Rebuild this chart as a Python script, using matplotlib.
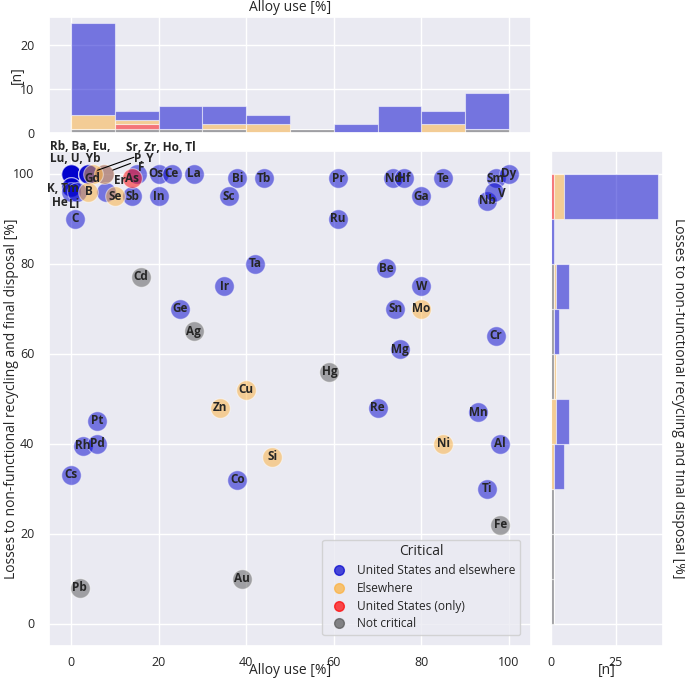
import numpy as np
import matplotlib
matplotlib.use('Agg')
import matplotlib.pyplot as plt
import seaborn as sns
from matplotlib.lines import Line2D

sns.set_theme(style='darkgrid')
plt.rcParams['font.family'] = ['Open Sans', 'DejaVu Sans']

# data
elements = ["Rb", "Ba", "Eu", "Lu", "U", "Yb", "Sr", "Zr", "Ho", "Tl", "P", "Y", "Gd",
            "K", "Tm", "He", "Li", "B", "C", "Er", "Se", "Sb", "As", "F", "Os", "Ce",
            "In", "La", "Bi", "Sc", "Tb", "Pr", "Ru", "Nd", "Hf", "Ga", "Te", "Sm",
            "Dy", "Nb", "V", "Cd", "Ta", "Ir", "Be", "W", "Ge", "Sn", "Mo", "Ag", "Cr",
            "Mg", "Hg", "Cu", "Zn", "Re", "Mn", "Pt", "Rh", "Pd", "Ni", "Al", "Si",
            "Cs", "Co", "Ti", "Fe", "Au", "Pb"]
alloy_use = [0, 0, 0, 0, 0, 0, 4, 4, 4, 4, 7.5, 7.5, 5,
             0, 0, 0, 1.5, 4, 1, 8, 10, 14, 14, 15, 20, 23,
             20, 28, 38, 36, 44, 61, 61, 73.5, 76, 80, 85, 97,
             100, 95, 96.5, 16, 42, 35, 72, 80, 25, 74, 80, 28, 97,
             75, 59, 40, 34, 70, 93, 6, 2.7, 6, 85, 98, 46,
             0, 38, 95, 98, 39, 2]
losses = [100, 100, 100, 100, 100, 100, 100, 100, 100, 100, 100, 100, 100,
          97, 97, 96, 96, 96, 90, 96, 95, 95, 99, 100, 100, 100,
          95, 100, 99, 95, 99, 99, 90, 99, 99, 95, 99, 99,
          100, 94, 96, 77, 80, 75, 79, 75, 70, 70, 70, 65, 64,
          61, 56, 52, 48, 48, 47, 45, 39.5, 40, 40, 40, 37,
          33, 32, 30, 22, 10, 8]
US = 'United States and elsewhere'
EL = 'Elsewhere'
USO = 'United States (only)'
NC = 'Not critical'
critical = [US, US, US, US, US, US, US, US, US, US, EL, US, EL,
            US, US, US, US, EL, US, US, EL, US, USO, US, US, US,
            US, US, US, US, US, US, US, US, US, US, US, US,
            US, US, US, NC, US, US, US, US, US, US, EL, NC, US,
            US, NC, EL, EL, US, US, US, US, US, EL, US, EL,
            US, US, US, NC, NC, NC]

categories = [US, EL, USO, NC]
colors = {US: '#0000cd', EL: '#fcb03a', USO: '#ff0000', NC: '#555555'}

x = np.array(alloy_use, dtype=float)
y = np.array(losses, dtype=float)
cat = np.array(critical)

W, H = 685, 682
def rect(l, t, r, b):
    return [l / W, 1 - b / H, (r - l) / W, (b - t) / H]

fig = plt.figure(figsize=(6.85, 6.82), dpi=100)
ax = fig.add_axes(rect(49, 151, 531, 646))
axt = fig.add_axes(rect(49, 17, 531, 133), sharex=ax)
axr = fig.add_axes(rect(551, 151, 663, 646), sharey=ax)

# scatter
for c in categories:
    m = cat == c
    ax.scatter(x[m], y[m], s=200, color=colors[c], alpha=0.5,
               edgecolor='white', linewidth=0.8, zorder=3)

# labels: points sharing coordinates get one joined label
groups = {}
for n, xi, yi in zip(elements, x, y):
    groups.setdefault((xi, yi), []).append(n)

offsets = {
    "K, Tm": (-8, -1), "He": (-11, -11), "Li": (-3, -13), "Gd": (-1, -5),
    "Er": (14, 11), "F": (5, 6), "V": (8, -2), "Os": (-3, 0),
}
left_labels = {"Rb": (-21, 21), "Sr": (38, 26), "P": (30, 15)}

for (xi, yi), ns in groups.items():
    if len(ns) > 4:
        lab = ",\n".join(", ".join(ns[i:i + 3]) for i in range(0, len(ns), 3))
    else:
        lab = ", ".join(ns)
    if ns[0] in left_labels:
        dx, dy = left_labels[ns[0]]
        arrow = None if ns[0] == "Rb" else dict(arrowstyle='-', color='black', lw=0.8,
                                                 shrinkA=0, shrinkB=7)
        ax.annotate(lab, (xi, yi), xytext=(dx, dy), textcoords='offset pixels',
                    ha='left', va='center', fontsize=8.5, fontweight='bold',
                    linespacing=1.0, arrowprops=arrow, zorder=5)
    else:
        dx, dy = offsets.get(lab, (0, 0))
        ax.annotate(lab, (xi, yi), xytext=(dx, dy), textcoords='offset pixels',
                    ha='center', va='center', fontsize=8.5, fontweight='bold', zorder=5)

ax.set_xlim(-5, 105)
ax.set_ylim(-5, 105)
ax.set_xticks([0, 20, 40, 60, 80, 100])
ax.set_yticks([0, 20, 40, 60, 80, 100])
ax.tick_params(labelsize=9, pad=1)
ax.tick_params(axis='y', pad=4.5)
ax.set_xlabel('Alloy use [%]', fontsize=10, va='center')
ax.xaxis.set_label_coords(0.5, -0.0505)
ax.set_ylabel('Losses to non-functional recycling and final disposal [%]',
              fontsize=10, va='center')
ax.yaxis.set_label_coords(-0.0768, 0.5)

handles = [Line2D([], [], marker='o', linestyle='', markersize=7,
                  color=colors[c], alpha=0.7, label=c) for c in categories]
leg = ax.legend(handles=handles, title='Critical', loc='lower right',
                fontsize=8.6, title_fontsize=10, handletextpad=0.5, labelspacing=0.4,
                borderaxespad=0.9)

# stacked histograms (bottom to top: not critical, US only, elsewhere, both)
bins = np.arange(0, 101, 10)
stack_order = [NC, USO, EL, US]
bottom = np.zeros(len(bins) - 1)
for c in stack_order:
    cnt, _ = np.histogram(x[cat == c], bins=bins)
    axt.bar(bins[:-1], cnt, width=10, align='edge', bottom=bottom, color=colors[c],
            alpha=0.5, edgecolor='white', linewidth=0.8)
    bottom += cnt
axt.set_ylim(0, bottom.max() * 1.05)
axt.set_yticks([0, 10, 20])
axt.tick_params(labelbottom=False, labelsize=9, pad=4.5)
axt.set_xlabel('Alloy use [%]', fontsize=10, va='center')
axt.xaxis.set_label_coords(0.5, 1.0776)
axt.set_ylabel('[n]', fontsize=10, va='center')
axt.yaxis.set_label_coords(-0.0664, 0.5)

left = np.zeros(len(bins) - 1)
for c in stack_order:
    cnt, _ = np.histogram(y[cat == c], bins=bins)
    axr.barh(bins[:-1], cnt, height=10, align='edge', left=left, color=colors[c],
             alpha=0.5, edgecolor='white', linewidth=0.8)
    left += cnt
axr.set_xlim(0, left.max() * 1.05)
axr.set_xticks([0, 25])
axr.tick_params(labelleft=False, labelsize=9, pad=1)
axr.set_xlabel('[n]', fontsize=10, va='center')
axr.xaxis.set_label_coords(0.5, -0.0505)
axr.set_ylabel('Losses to non-functional recycling and final disposal [%]',
               fontsize=10, rotation=270, va='center')
axr.yaxis.set_label_coords(1.134, 0.5)

fig.savefig('out.png', dpi=100)
